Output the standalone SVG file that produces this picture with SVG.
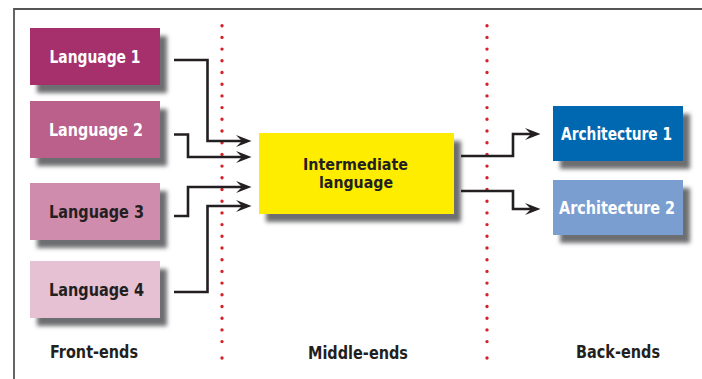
<svg xmlns="http://www.w3.org/2000/svg" width="702" height="379" viewBox="0 0 702 379">
  <defs>
    <filter id="soft" x="-20%" y="-30%" width="140%" height="160%">
      <feGaussianBlur stdDeviation="2"/>
    </filter>
    <marker id="head" markerUnits="userSpaceOnUse" markerWidth="16" markerHeight="13" viewBox="0 0 16 13" refX="6" refY="6.5" orient="auto">
      <path d="M0,0.5 L15.5,6.5 L0,12.5 L6,6.5 Z" fill="#231f20"/>
    </marker>
  </defs>
  <style>
    .frame { stroke: #555; stroke-width: 1.8; fill: none; }
    .shadow { fill: #6d6e71; filter: url(#soft); }
    .lbl { font-family: "DejaVu Sans Condensed", "Liberation Sans", sans-serif; font-weight: bold; font-size: 17.5px; text-anchor: middle; }
    .two { font-size: 16.5px; }
    .light { fill: #ffffff; }
    .dark { fill: #231f20; }
    .dots { stroke: #d2232a; stroke-width: 3.4; stroke-linecap: round; stroke-dasharray: 0 11.7; fill: none; }
    .dot { fill: #d2232a; }
    .conn { stroke: #231f20; stroke-width: 2.6; fill: none; marker-end: url(#head); }
  </style>

  <rect width="702" height="379" fill="#ffffff"/>

  <!-- frame: top and left rules -->
  <path class="frame" d="M14,379 V9 H702"/>

  <!-- dotted column dividers -->
  <g id="dividers">
    <line class="dots" x1="222" y1="25.7" x2="222" y2="342"/>
    <circle class="dot" cx="222" cy="358" r="1.7"/>
    <line class="dots" x1="487" y1="25.7" x2="487" y2="342"/>
    <circle class="dot" cx="487" cy="358" r="1.7"/>
  </g>

  <!-- front-end nodes -->
  <g id="lang1">
    <rect class="shadow" x="37" y="36" width="130" height="57"/>
    <rect x="30" y="28" width="130" height="57" fill="#a6306b"/>
    <text class="lbl light" x="95" y="62.5" textLength="91" lengthAdjust="spacingAndGlyphs">Language 1</text>
  </g>
  <g id="lang2">
    <rect class="shadow" x="37" y="109" width="130" height="57"/>
    <rect x="30" y="101" width="130" height="57" fill="#bb5f8b"/>
    <text class="lbl light" x="96" y="135.7" textLength="94" lengthAdjust="spacingAndGlyphs">Language 2</text>
  </g>
  <g id="lang3">
    <rect class="shadow" x="37" y="191" width="130" height="57"/>
    <rect x="30" y="183" width="130" height="57" fill="#cf8cad"/>
    <text class="lbl dark" x="96.5" y="217.5" textLength="95" lengthAdjust="spacingAndGlyphs">Language 3</text>
  </g>
  <g id="lang4">
    <rect class="shadow" x="37" y="269" width="130" height="57"/>
    <rect x="30" y="261" width="130" height="57" fill="#e6c1d3"/>
    <text class="lbl dark" x="96.5" y="295.5" textLength="95" lengthAdjust="spacingAndGlyphs">Language 4</text>
  </g>

  <!-- middle-end node -->
  <g id="intermediate">
    <rect class="shadow" x="266" y="141" width="195" height="81"/>
    <rect x="259" y="133" width="195" height="81" fill="#ffed00"/>
    <text class="lbl two dark" x="355.5" y="169.5" textLength="105" lengthAdjust="spacingAndGlyphs">Intermediate</text>
    <text class="lbl two dark" x="356" y="187.5" textLength="74" lengthAdjust="spacingAndGlyphs">language</text>
  </g>

  <!-- back-end nodes -->
  <g id="arch1">
    <rect class="shadow" x="560" y="114" width="130" height="55"/>
    <rect x="553" y="106" width="130" height="55" fill="#0067b1"/>
    <text class="lbl light" x="616.5" y="140" textLength="111" lengthAdjust="spacingAndGlyphs">Architecture 1</text>
  </g>
  <g id="arch2">
    <rect class="shadow" x="560" y="188" width="130" height="55"/>
    <rect x="553" y="180" width="130" height="55" fill="#7b9ed1"/>
    <text class="lbl light" x="617" y="214" textLength="116" lengthAdjust="spacingAndGlyphs">Architecture 2</text>
  </g>

  <!-- connectors -->
  <g id="connectors">
    <path class="conn" d="M174,60 H207.5 V141 H242"/>
    <path class="conn" d="M174,134.5 H188 V157 H242"/>
    <path class="conn" d="M174,216 H188 V187 H242"/>
    <path class="conn" d="M174,292 H207.5 V206 H242"/>
    <path class="conn" d="M461,156 H513 V134 H531"/>
    <path class="conn" d="M461,191 H513 V209 H531"/>
  </g>

  <!-- column captions -->
  <g id="captions">
    <text class="lbl dark" x="94" y="358" textLength="88" lengthAdjust="spacingAndGlyphs">Front-ends</text>
    <text class="lbl dark" x="358" y="359" textLength="100" lengthAdjust="spacingAndGlyphs">Middle-ends</text>
    <text class="lbl dark" x="618" y="358" textLength="84" lengthAdjust="spacingAndGlyphs">Back-ends</text>
  </g>
</svg>
